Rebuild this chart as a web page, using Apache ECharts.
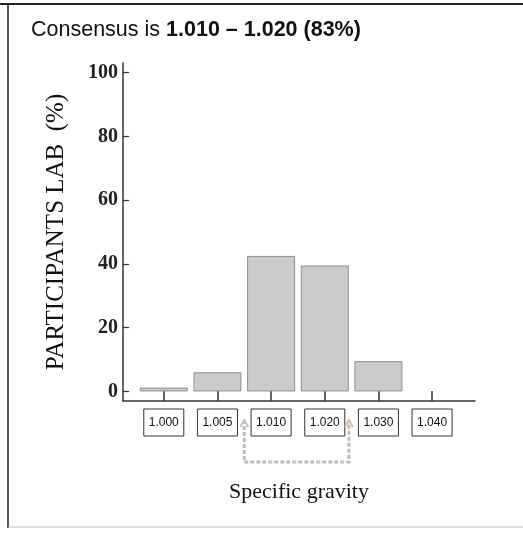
<!DOCTYPE html>
<html>
<head>
<meta charset="utf-8">
<script src="https://cdn.jsdelivr.net/npm/echarts@6/dist/echarts.min.js"></script>
<style>
html,body{margin:0;padding:0;background:#fff;}
#chart{width:523px;height:535px;}
</style>
</head>
<body>
<div id="chart"></div>
<script>
// ---- data ----
const titleText = 'Consensus is ';
const titleRange = '1.010 \u2013 1.020 (83%)';
const categories = ['1.000', '1.005', '1.010', '1.020', '1.030', '1.040'];
const values = [1.2, 6, 42.5, 39.5, 9.5, 0];
const consensusRange = ['1.010', '1.020'];
const yTicks = [0, 20, 40, 60, 80, 100];
const yAxisName = 'PARTICIPANTS LAB  (%)';
const xAxisName = 'Specific gravity';

const catIdx = categories.map((c, i) => i);
const barData = categories.map((c, i) => values[i] > 0
  ? [i, values[i]]
  : { value: [i, values[i]], itemStyle: { borderWidth: 0, opacity: 0 } });
const consIdx = consensusRange.map(c => categories.indexOf(c));

const chart = echarts.init(document.getElementById('chart'));
chart.setOption({
  animation: false,
  backgroundColor: '#fff',
  title: {
    text: '{a|' + titleText + '}{b|' + titleRange + '}',
    left: 26,
    top: 14,
    textStyle: {
      fontWeight: 'normal',
      fontSize: 21.5,
      rich: {
        a: { fontFamily: 'Liberation Sans, Arial, sans-serif', fontSize: 21.5, color: '#111', fontWeight: 'normal' },
        b: { fontFamily: 'Liberation Sans, Arial, sans-serif', fontSize: 21.5, color: '#111', fontWeight: 'bold' }
      }
    }
  },
  graphic: [
    { type: 'line', shape: { x1: 0, y1: 4, x2: 523, y2: 4 }, style: { stroke: '#222', lineWidth: 2 } },
    { type: 'line', shape: { x1: 8, y1: 4, x2: 8, y2: 528 }, style: { stroke: '#222', lineWidth: 1.5 } },
    { type: 'line', shape: { x1: 8, y1: 527, x2: 523, y2: 527 }, style: { stroke: '#bbb', lineWidth: 1 } }
  ],
  grid: { left: 123, right: 48, top: 63, bottom: 134, containLabel: false },
  xAxis: {
    type: 'value',
    min: -0.76,
    max: 5.8,
    splitLine: { show: false },
    axisLine: { show: true, onZero: false, lineStyle: { color: '#333', width: 1.5 } },
    axisTick: { show: true, inside: true, length: 10, customValues: catIdx, lineStyle: { color: '#333', width: 1.5 } },
    axisLabel: {
      customValues: catIdx,
      formatter: v => categories[v],
      fontFamily: 'Liberation Sans, Arial, sans-serif',
      fontSize: 12,
      color: '#111',
      margin: 8,
      borderColor: '#333',
      borderWidth: 1,
      padding: [7, 5, 7, 5],
      lineHeight: 13
    },
    name: xAxisName,
    nameLocation: 'middle',
    nameGap: 80,
    nameTextStyle: { fontFamily: 'Liberation Serif, Times New Roman, serif', fontSize: 22, color: '#111' }
  },
  yAxis: {
    type: 'value',
    min: -3,
    max: 103,
    splitLine: { show: false },
    axisLine: { show: true, onZero: false, lineStyle: { color: '#333', width: 1.5 } },
    axisTick: { show: true, inside: true, length: 6, customValues: yTicks, lineStyle: { color: '#333', width: 1.2 } },
    axisLabel: {
      customValues: yTicks,
      fontFamily: 'Liberation Serif, Times New Roman, serif',
      fontSize: 20,
      fontWeight: 'bold',
      color: '#222',
      margin: 5
    },
    name: yAxisName,
    nameLocation: 'middle',
    nameRotate: 90,
    nameGap: 54,
    nameTextStyle: { fontFamily: 'Liberation Serif, Times New Roman, serif', fontSize: 25, color: '#111' }
  },
  series: [
    {
      type: 'bar',
      data: barData,
      barWidth: 48,
      itemStyle: { color: '#cbcbcb', borderColor: '#8e8e8e', borderWidth: 1 }
    },
    {
      type: 'custom',
      clip: false,
      silent: true,
      data: [[consIdx[0], consIdx[1]]],
      renderItem: function (params, api) {
        const y0 = api.coord([0, -3])[1];
        const xl = api.coord([api.value(0) - 0.5, 0])[0];
        const xr = api.coord([api.value(1) + 0.45, 0])[0];
        const yt = y0 + 19, yb = y0 + 61;
        const st = { stroke: '#bdbdbd', lineWidth: 3, fill: 'none', lineDash: [4, 2] };
        return {
          type: 'group',
          children: [
            { type: 'polyline', shape: { points: [[xl, yt], [xl, yb], [xr, yb], [xr, yt]] }, style: st },
            { type: 'polyline', shape: { points: [[xl - 4, yt + 7], [xl, yt], [xl + 4, yt + 7]] }, style: { stroke: '#c4c4c4', lineWidth: 2, fill: 'none' } },
            { type: 'polyline', shape: { points: [[xr - 4, yt + 7], [xr, yt], [xr + 4, yt + 7]] }, style: { stroke: '#d8b8a8', lineWidth: 2, fill: 'none' } }
          ]
        };
      }
    }
  ]
});
</script>
</body>
</html>
